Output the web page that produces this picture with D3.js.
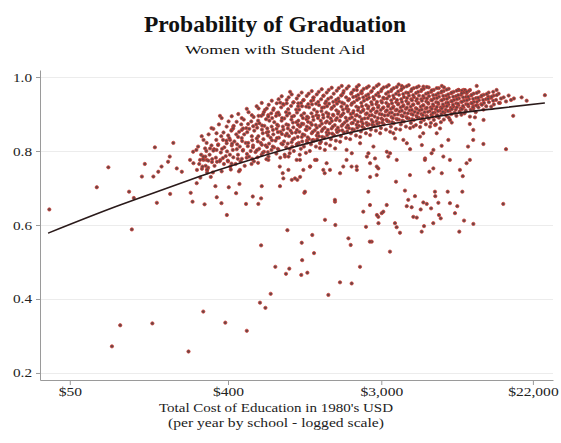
<!DOCTYPE html>
<html>
<head>
<meta charset="utf-8">
<script src="https://cdnjs.cloudflare.com/ajax/libs/d3/7.8.5/d3.min.js"></script>
<style>
  html, body { margin: 0; padding: 0; background: #fff; }
  svg { display: block; }
  text { font-family: "Liberation Serif", "Times New Roman", serif; }
</style>
</head>
<body>
<svg id="chart" width="561" height="443"></svg>
<script>
// Titles and axis text
const titleText = "Probability of Graduation";
const subtitleText = "Women with Student Aid";
const xTitleLines = ["Total Cost of Education in 1980's USD", "(per year by school - logged scale)"];

// Tick values
const costTicks = [50, 400, 3000, 22000];
const probTicks = [0.2, 0.4, 0.6, 0.8, 1.0];

// Fitted graduation probability along the cost range
const fitCost = [37.6, 96.8, 143.5, 233, 277, 534, 903, 1743, 2948, 4986, 8432, 14259, 25751];
const fitProb = [0.578, 0.654, 0.683, 0.719, 0.732, 0.776, 0.808, 0.843, 0.868, 0.886, 0.903, 0.916, 0.930];

// Schools away from the main cluster: [cost per year (USD), graduation probability]
const schoolsOutlying = [
  [38.2,.642],[71.3,.702],[113,.588],[109,.690],[116,.673],[157,.660],[187,.684],[251,.663],[245,.687],[265,.713],
  [294,.656],[339,.705],[367,.659],[345,.675],[404,.702],[445,.686],[465,.711],[394,.627],[507,.657],[554,.677],
  [596,.657],[623,.705],[618,.672],[792,.705],[873,.586],[618,.545],[745,.487],[857,.468],[895,.482],[701,.414],
  [609,.390],[654,.376],[289,.366],[386,.336],[512,.314],[238,.258],[148,.334],[97,.329],[87,.272],
  [925,.722],[995,.722],[1091,.687],[821,.740],[1211,.573],[1054,.552],[1239,.524],[1060,.505],[1135,.471],[1048,.465],
  [1496,.411],[1431,.614],[1632,.663],[1640,.600],[1947,.564],[2006,.546],[2267,.487],[2032,.442],[1743,.445],[2367,.636],
  [2529,.690],[2585,.654],[2453,.595],[2644,.555],[2590,.730],[1425,.740],[2884,.622],
  [2824,.735],[3639,.717],[4372,.735],[5640,.744],[6640,.740],[8750,.732],[4094,.693],[4669,.678],[6072,.690],[6100,.678],
  [7180,.690],[8700,.690],[5210,.661],[5450,.657],[5770,.645],[5035,.642],[6350,.660],[7394,.659],[8145,.651],[4190,.651],
  [4470,.648],[4570,.622],[4780,.620],[6400,.627],[6550,.618],[7900,.632],[8900,.612],[10060,.603],[5940,.605],[5260,.597],
  [5100,.582],[8360,.582],[3590,.605],[3670,.594],[3834,.579],[3362,.528],[2830,.627],[3015,.632],[3080,.636],[2890,.605],
  [2580,.555],[14900,.657],[3220,.654],
  [16980,.895],[15450,.805],[11480,.819],[25750,.951],[18970,.945],[20270,.936],[17140,.942],[14260,.930],[12240,.947],[10070,.922],
  [10600,.924],[9615,.893],[10270,.891],[11500,.884],[9600,.873],[10510,.976],[8830,.965],[9630,.965],[13060,.960],[13650,.965],
  [10050,.857],[7400,.884],[7570,.877],[7240,.830],[10040,.830],[9380,.812],[6630,.814],[5950,.803],[5810,.794],[5330,.780],
  [5110,.816],[4380,.805],[9610,.776],[2761,.780],[2884,.753],[3225,.798],[3290,.785],[3514,.848],[3595,.834],[3924,.976],
  [5215,.974],[6645,.976],[6840,.972],[8260,.965],[8630,.963],[9010,.965],[9210,.956],[6210,.848],[6490,.861],[5690,.866],
  [6080,.870],[4990,.839],[5205,.848],[4010,.830],[4195,.821],[4575,.866],
  [905,.960],[795,.931],[598,.895],[360,.895],[429,.866],[479,.857],[650,.911],[679,.897],[1007,.929],[1227,.938],
  [1435,.929],[1667,.933],[1782,.951],[2173,.965],[2319,.956],[865,.929],[759,.902],[316,.807],[344,.803],[296,.807],
  [420,.857],[411,.830],[393,.821],[277,.776],[302,.776],[304,.749],[362,.776],[412,.758],[468,.749],[680,.776],
  [790,.758],[885,.749],[1030,.776],[1032,.730],[1175,.758],[1255,.776],[1462,.767],[1528,.749],[1745,.740],[1820,.758],
  [2030,.758],[2175,.749],[2588,.767],[2826,.758],[1428,.803],[1635,.807],[1901,.803],[2035,.794],[2270,.821],[2532,.794],
  [2705,.812],[828,.726],[965,.726],[846,.785],
  [195,.822],[153,.810],[253,.798],[134,.765],[83,.756],[167,.758],[160,.744],[182,.771],[186,.785],[204,.753],
  [218,.744],[243,.776],[254,.767],[266,.749],[150,.731],[129,.731],[290,.776],[297,.785],[264,.803],
  [1100,.690],[1630,.668],[4276,.668],[5320,.776],[5945,.753],[6780,.785],[7390,.776],[8430,.749],[9200,.767],[1900,.776],
  [2170,.758],[2483,.785],[3365,.794],[3675,.776],[1028,.866],[1124,.857],[1225,.830],[1340,.821],[900,.794],[986,.776],
  [1077,.749],[1178,.758],[1282,.776],[1400,.749]
];

// Schools in the main cluster: [cost per year (USD), graduation probability]
const schoolsBand = [
  [270,.812],[281,.79],[274,.765],[284,.752],[278,.728],
  [290,.83],[301,.80],[288,.778],[298,.76],[304,.742],
  [310,.845],[322,.815],[314,.79],[324,.77],[308,.755],[319,.73],
  [330,.86],[343,.83],[333,.805],[341,.782],[335,.76],
  [355,.872],[366,.84],[352,.818],[364,.796],[358,.772],[368,.745],
  [377,.85],[392,.828],[381,.81],[388,.786],[379,.765],
  [403,.88],[418,.855],[407,.835],[420,.815],[410,.79],[400,.772],[415,.75],
  [431,.868],[446,.845],[435,.826],[449,.805],[429,.783],[442,.765],
  [458,.90],[476,.872],[463,.852],[479,.835],[467,.812],[456,.79],[472,.772],[462,.745],
  [492,.885],[509,.862],[495,.845],[505,.822],[488,.803],[511,.782],[498,.76],
  [524,.905],[543,.88],[529,.86],[547,.84],[522,.822],[539,.80],[527,.785],[545,.765],
  [560,.892],[580,.872],[565,.855],[584,.834],[556,.815],[574,.797],[562,.772],
  [598,.915],[620,.895],[604,.875],[625,.858],[596,.84],[615,.822],[602,.806],[622,.79],[594,.768],
  [640,.905],[660,.886],[645,.868],[665,.85],[637,.832],[656,.815],[642,.798],[663,.778],
  [683,.925],[706,.902],[689,.882],[710,.866],[680,.852],[700,.836],[686,.82],[708,.803],[681,.785],
  [729,.915],[752,.895],[735,.878],[757,.86],[726,.845],[747,.828],[732,.81],[755,.793],
  [778,.94],[805,.918],[784,.898],[809,.882],[774,.868],[798,.852],[781,.836],[807,.82],[776,.804],[795,.782],
  [832,.925],[858,.905],[838,.888],[862,.872],[828,.858],[852,.842],[835,.826],[860,.81],[842,.79],
  [888,.945],[917,.922],[894,.902],[920,.885],[884,.87],[910,.855],[891,.84],[923,.824],[900,.806],[886,.785],
  [948,.932],[980,.912],[953,.895],[984,.878],[944,.864],[975,.85],[957,.834],[987,.818],[950,.80],
  [1012,.95],[1045,.93],[1018,.912],[1050,.896],[1008,.882],[1038,.868],[1022,.852],[1055,.838],[1014,.822],[1042,.806],[1027,.79],
  [1082,.938],[1118,.92],[1087,.902],[1122,.886],[1077,.873],[1110,.858],[1093,.843],[1127,.828],[1085,.812],[1114,.795],
  [1155,.955],[1193,.935],[1160,.918],[1198,.902],[1150,.89],[1186,.876],[1168,.862],[1202,.848],[1158,.833],[1190,.818],[1172,.80],
  [1234,.945],[1274,.928],[1240,.912],[1280,.897],[1230,.884],[1266,.87],[1250,.856],[1284,.842],[1238,.828],[1270,.812],
  [1318,.96],[1360,.94],[1323,.924],[1366,.908],[1313,.895],[1353,.882],[1335,.868],[1370,.854],[1320,.84],[1356,.825],[1338,.808],
  [1408,.95],[1452,.934],[1414,.918],[1458,.904],[1402,.89],[1445,.877],[1425,.863],[1462,.85],[1417,.836],[1449,.82],
  [1503,.965],[1551,.945],[1510,.928],[1556,.914],[1498,.90],[1543,.888],[1522,.875],[1560,.861],[1507,.848],[1547,.832],[1530,.815],
  [1605,.955],[1656,.938],[1612,.922],[1662,.91],[1600,.896],[1648,.884],[1626,.87],[1666,.857],[1609,.843],[1651,.828],
  [1714,.97],[1769,.95],[1721,.934],[1775,.92],[1708,.906],[1760,.894],[1737,.882],[1780,.868],[1718,.855],[1764,.84],[1746,.825],
  [1830,.962],[1889,.945],[1838,.928],[1895,.915],[1824,.902],[1880,.89],[1853,.877],[1900,.864],[1834,.85],[1884,.835],
  [1955,.975],[2018,.955],[1963,.94],[2024,.925],[1948,.912],[2008,.90],[1980,.888],[2030,.875],[1959,.862],[2012,.848],[1992,.832],
  [2088,.965],[2155,.948],[2096,.932],[2161,.92],[2081,.908],[2145,.896],[2114,.884],[2167,.871],[2092,.858],[2150,.842],
  [2230,.978],[2301,.958],[2238,.942],[2308,.93],[2222,.917],[2290,.905],[2256,.893],[2314,.88],[2234,.868],[2295,.853],[2272,.838],
  [2381,.968],[2457,.95],[2390,.936],[2464,.924],[2373,.912],[2446,.90],[2410,.888],[2470,.876],[2386,.862],[2450,.848],
  [2542,.975],[2624,.96],[2552,.944],[2631,.932],[2534,.92],[2612,.908],[2573,.896],[2638,.884],[2547,.872],[2617,.858],[2590,.843],
  [2715,.97],[2803,.952],[2726,.94],[2810,.927],[2707,.915],[2790,.904],[2748,.893],[2816,.881],[2720,.869],[2795,.855],
  [2899,.98],[2992,.962],[2910,.948],[3000,.935],[2890,.922],[2979,.911],[2934,.90],[3007,.888],[2905,.876],[2985,.862],[2955,.848],
  [3096,.972],[3195,.955],[3108,.942],[3203,.93],[3086,.918],[3181,.907],[3133,.896],[3210,.885],[3102,.872],[3187,.858],
  [3306,.978],[3412,.962],[3319,.948],[3420,.937],[3296,.925],[3397,.914],[3346,.903],[3428,.892],[3312,.88],[3403,.866],[3370,.852],
  [3530,.97],[3644,.955],[3544,.943],[3652,.932],[3520,.92],[3628,.91],[3573,.898],[3660,.887],[3537,.875],[3634,.86],
  [3770,.98],[3892,.965],[3785,.952],[3900,.94],[3759,.928],[3874,.918],[3816,.907],[3909,.896],[3778,.885],[3880,.872],[3843,.858],
  [4026,.972],[4155,.958],[4041,.946],[4165,.935],[4014,.924],[4137,.914],[4075,.903],[4174,.892],[4033,.88],[4144,.866],
  [4299,.978],[4437,.962],[4315,.95],[4447,.94],[4286,.93],[4418,.92],[4351,.91],[4457,.90],[4307,.888],[4425,.876],[4382,.862],
  [4591,.97],[4739,.957],[4608,.946],[4750,.936],[4577,.926],[4718,.916],[4647,.906],[4760,.895],[4600,.884],[4725,.87],
  [4903,.975],[5060,.962],[4921,.95],[5072,.94],[4888,.93],[5038,.92],[4962,.91],[5083,.90],[4912,.89],[5046,.878],[4997,.865],
  [5235,.968],[5403,.955],[5255,.944],[5416,.934],[5220,.924],[5380,.915],[5299,.905],[5428,.895],[5245,.884],[5388,.872],
  [5591,.972],[5771,.96],[5612,.948],[5784,.938],[5575,.928],[5746,.918],[5659,.908],[5797,.898],[5602,.888],[5755,.876],
  [5971,.965],[6163,.952],[5993,.942],[6177,.932],[5953,.922],[6136,.913],[6043,.904],[6191,.894],[5982,.884],[6146,.872],
  [6376,.97],[6581,.958],[6400,.947],[6596,.937],[6357,.927],[6552,.918],[6453,.909],[6611,.90],[6388,.89],[6563,.878],
  [6809,.962],[7028,.95],[6834,.94],[7044,.93],[6789,.921],[6997,.912],[6891,.904],[7060,.895],[6822,.885],
  [7271,.968],[7505,.956],[7298,.945],[7522,.935],[7250,.926],[7472,.917],[7359,.909],[7539,.90],[7285,.89],
  [7765,.96],[8014,.948],[7793,.938],[8033,.929],[7742,.92],[7979,.912],[7858,.904],[8051,.895],
  [8292,.965],[8558,.952],[8322,.942],[8578,.933],[8268,.924],[8521,.915],[8392,.907],[8598,.898],
  [8854,.958],[9139,.946],[8887,.936],[9160,.927],[8829,.918],[9099,.91],[8961,.902],
  [9455,.962],[9759,.95],[9490,.94],[9782,.93],[9428,.921],[9716,.912],
  [10097,.955],[10422,.943],[10134,.933],[10446,.923],[10068,.914],[10376,.905],
  [10783,.96],[11129,.947],[10822,.937],[11155,.927],[10752,.918],
  [11514,.952],[11885,.94],[11557,.93],[11912,.921],[11481,.912],
  [12296,.958],[12692,.944],[12341,.932],[12720,.92],
  [13131,.95],[13553,.938],[13179,.926],
  [14022,.955],[14473,.942],[14073,.93],
  [14974,.945],[15455,.934],
  [15991,.95],[16505,.938]
];

// More schools in the core of the cluster, between the columns above
const schoolsCore = [
  [283,.84],[289,.785],[286,.758],
  [302,.822],[309,.774],[304,.75],
  [322,.862],[330,.801],[325,.778],[328,.742],
  [344,.848],[351,.816],[346,.771],
  [368,.889],[375,.83],[370,.806],[374,.781],
  [393,.866],[401,.842],[395,.799],[399,.774],
  [420,.894],[428,.861],[422,.82],[426,.803],[419,.766],
  [448,.879],[457,.838],[451,.818],[455,.779],
  [479,.889],[488,.861],[482,.827],[486,.801],[480,.779],
  [512,.914],[521,.873],[515,.851],[519,.813],[513,.792],
  [547,.897],[557,.867],[550,.829],[555,.81],[549,.779],
  [583,.921],[594,.882],[587,.863],[592,.826],[585,.802],[590,.783],
  [623,.93],[634,.899],[626,.869],[632,.848],[624,.817],[631,.795],
  [666,.915],[679,.893],[670,.861],[677,.842],[668,.811],[675,.797],
  [711,.936],[725,.911],[715,.889],[722,.857],[713,.829],[720,.812],
  [759,.929],[774,.904],[763,.871],[771,.851],[761,.835],[769,.806],
  [810,.948],[826,.927],[814,.889],[823,.866],[812,.846],[821,.818],
  [865,.938],[882,.913],[869,.896],[879,.861],[867,.847],[877,.82],
  [924,.953],[942,.931],[928,.893],[939,.877],[926,.849],[936,.831],[930,.812],
  [987,.942],[1006,.921],[991,.904],[1003,.871],[989,.857],[1000,.838],[994,.819],
  [1053,.958],[1075,.937],[1058,.921],[1071,.889],[1056,.874],[1068,.845],[1061,.826],
  [1126,.949],[1148,.927],[1131,.893],[1145,.879],[1128,.866],[1141,.837],[1134,.823],
  [1202,.962],[1226,.944],[1207,.926],[1222,.893],[1204,.871],[1219,.852],[1211,.829],
  [1284,.953],[1310,.933],[1289,.906],[1305,.889],[1286,.863],[1302,.849],[1293,.832],
  [1371,.967],[1399,.949],[1377,.917],[1394,.898],[1374,.874],[1390,.859],[1381,.838],
  [1464,.958],[1494,.941],[1470,.921],[1489,.893],[1467,.88],[1485,.857],[1474,.843],
  [1563,.971],[1595,.933],[1569,.917],[1590,.898],[1566,.881],[1586,.866],[1575,.847],
  [1670,.963],[1704,.942],[1676,.928],[1698,.901],[1673,.889],[1694,.863],[1681,.851],
  [1783,.976],[1819,.957],[1790,.931],[1813,.912],[1786,.897],[1808,.872],[1795,.856],
  [1904,.969],[1942,.937],[1911,.921],[1936,.907],[1907,.882],[1931,.869],[1917,.853],
  [2033,.958],[2075,.946],[2041,.929],[2068,.903],[2037,.891],[2062,.876],[2048,.859],
  [2172,.973],[2216,.952],[2180,.938],[2209,.91],[2176,.897],[2203,.879],[2187,.863],
  [2320,.962],[2366,.945],[2328,.921],[2359,.909],[2324,.886],[2353,.874],[2335,.866],
  [2477,.971],[2527,.953],[2486,.94],[2519,.915],[2481,.902],[2512,.889],[2494,.87],
  [2645,.962],[2699,.946],[2655,.926],[2691,.913],[2650,.897],[2683,.878],[2664,.871],
  [2825,.976],[2882,.957],[2835,.933],[2873,.918],[2829,.907],[2866,.889],[2845,.874],
  [3017,.967],[3078,.944],[3027,.931],[3068,.916],[3021,.899],[3060,.884],[3037,.877],
  [3221,.974],[3286,.959],[3232,.942],[3276,.921],[3226,.91],[3268,.897],[3243,.881],
  [3439,.966],[3509,.95],[3451,.929],[3498,.917],[3445,.904],[3489,.889],[3463,.878],
  [3673,.973],[3747,.961],[3686,.938],[3736,.926],[3679,.912],[3726,.899],[3698,.885],
  [3922,.968],[4002,.954],[3936,.933],[3990,.921],[3929,.909],[3979,.894],[3950,.882],
  [4189,.975],[4273,.957],[4203,.943],[4261,.928],[4196,.917],[4249,.902],[4217,.889],
  [4473,.967],[4563,.951],[4488,.937],[4550,.925],[4480,.911],[4538,.898],[4503,.886],
  [4777,.972],[4873,.96],[4793,.941],[4859,.929],[4785,.914],[4846,.903],[4809,.891],
  [5100,.966],[5204,.949],[5117,.936],[5189,.923],[5109,.912],[5175,.897],[5135,.888],
  [5447,.973],[5557,.957],[5465,.942],[5541,.931],[5456,.917],[5526,.906],[5484,.893],
  [5817,.964],[5935,.951],[5836,.937],[5918,.926],[5827,.914],[5902,.903],[5856,.893],
  [6212,.97],[6338,.956],[6233,.943],[6320,.931],[6222,.919],[6303,.908],[6254,.897],
  [6634,.961],[6768,.949],[6656,.937],[6749,.926],[6645,.915],[6731,.906],
  [7084,.966],[7228,.953],[7108,.941],[7208,.931],[7096,.921],[7188,.908],
  [7565,.958],[7717,.947],[7590,.934],[7696,.925],[7577,.913],
  [8078,.963],[8242,.951],[8105,.94],[8219,.928],[8092,.918],
  [8627,.956],[8801,.945],[8656,.933],[8777,.922],[8641,.913],
  [9212,.96],[9398,.947],[9243,.937],[9372,.926],
  [9838,.952],[10036,.941],[9871,.929],[10008,.918],
  [10506,.957],[10718,.944],[10541,.933],
  [11219,.95],[11445,.938],[11257,.925],
  [11980,.954],[12222,.941],
  [12793,.947],[13051,.936],
  [13661,.951]
];

const svg = d3.select("#chart");

// Log-scaled cost axis and probability axis
const x = d3.scaleLog().domain([33.8, 28650]).range([40, 553]);
const y = d3.scaleLinear().domain([0.181, 1.019]).range([380, 70]);

// Faint horizontal grid at each probability tick
svg.append("g")
  .selectAll("line")
  .data(probTicks)
  .join("line")
  .attr("x1", x.range()[0])
  .attr("x2", x.range()[1])
  .attr("y1", d => Math.round(y(d)) + 0.5)
  .attr("y2", d => Math.round(y(d)) + 0.5)
  .attr("stroke", "#ececec")
  .attr("stroke-width", 1);

// School markers
svg.append("g")
  .selectAll("circle")
  .data(schoolsOutlying.concat(schoolsBand, schoolsCore))
  .join("circle")
  .attr("cx", d => x(d[0]))
  .attr("cy", d => y(d[1]))
  .attr("r", 1.65)
  .attr("fill", "#664646")
  .attr("stroke", "#cf3d35")
  .attr("stroke-width", 0.75);

// Fitted curve
const fitLine = d3.line()
  .x(d => x(d[0]))
  .y(d => y(d[1]))
  .curve(d3.curveMonotoneX);

svg.append("path")
  .datum(fitCost.map((c, i) => [c, fitProb[i]]))
  .attr("d", fitLine)
  .attr("fill", "none")
  .attr("stroke", "#2a1a1a")
  .attr("stroke-width", 1.6);

// Stretch a text element horizontally by a factor
function widen(sel, k) {
  sel.each(function () {
    const w = this.getComputedTextLength();
    d3.select(this).attr("textLength", w * k).attr("lengthAdjust", "spacingAndGlyphs");
  });
}

// Y axis
const gy = svg.append("g")
  .attr("transform", "translate(40,0)")
  .call(d3.axisLeft(y).tickValues(probTicks).tickFormat(d3.format(".1f")).tickSize(4).tickSizeOuter(0).tickPadding(4));
gy.select(".domain").attr("stroke", "#9a9a9a");
gy.selectAll(".tick line").attr("stroke", "#9a9a9a");
gy.selectAll(".tick text")
  .attr("fill", "#222")
  .style("font-family", "'Liberation Serif', 'Times New Roman', serif")
  .style("font-size", "12.5px")
  .call(widen, 1.22);

// X axis
const gx = svg.append("g")
  .attr("transform", "translate(0,380)")
  .call(d3.axisBottom(x).tickValues(costTicks).tickFormat(d => "$" + d3.format(",")(d)).tickSize(5).tickSizeOuter(0));
gx.select(".domain").attr("stroke", "#9a9a9a");
gx.selectAll(".tick line").attr("stroke", "#9a9a9a");
gx.selectAll(".tick text")
  .attr("fill", "#222")
  .attr("y", 15.5)
  .attr("dy", 0)
  .style("font-family", "'Liberation Serif', 'Times New Roman', serif")
  .style("font-size", "13.5px")
  .call(widen, 1.15);

// Titles
svg.append("text")
  .attr("x", 275).attr("y", 31.5)
  .attr("text-anchor", "middle")
  .attr("fill", "#111")
  .style("font-size", "23px")
  .style("font-weight", "bold")
  .text(titleText)
  .attr("textLength", 262).attr("lengthAdjust", "spacingAndGlyphs");

svg.append("text")
  .attr("x", 275).attr("y", 54.4)
  .attr("text-anchor", "middle")
  .attr("fill", "#111")
  .style("font-size", "13.5px")
  .text(subtitleText)
  .attr("textLength", 180).attr("lengthAdjust", "spacingAndGlyphs");

// X axis title, two lines
const xTitleY = [412, 426.5];
const xTitleW = [234, 216];
svg.append("g")
  .selectAll("text")
  .data(xTitleLines)
  .join("text")
  .attr("x", 276)
  .attr("y", (d, i) => xTitleY[i])
  .attr("text-anchor", "middle")
  .attr("fill", "#222")
  .style("font-size", "12px")
  .text(d => d)
  .attr("textLength", (d, i) => xTitleW[i])
  .attr("lengthAdjust", "spacingAndGlyphs");
</script>
</body>
</html>
